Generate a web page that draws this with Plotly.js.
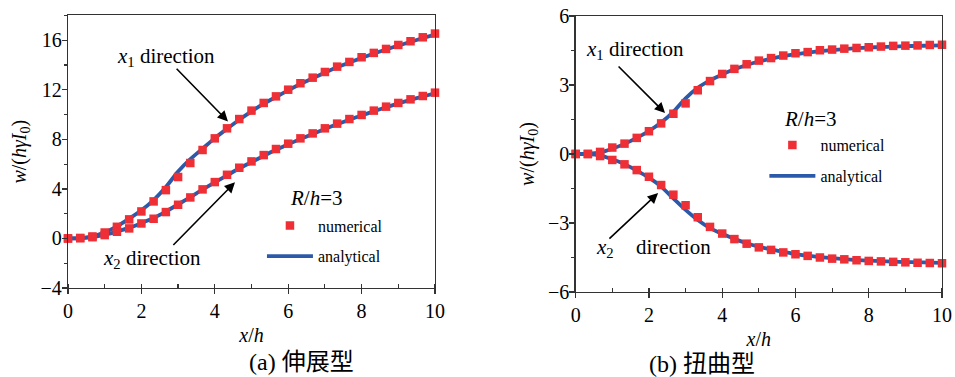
<!DOCTYPE html>
<html>
<head>
<meta charset="utf-8">
<script src="https://cdn.plot.ly/plotly-3.0.1.min.js"></script>
<style>html,body{margin:0;padding:0;background:#fff;}#chart{width:955px;height:377px;}</style>
</head>
<body>
<div id="chart"></div>
<script>
// x positions (x/h)
const xh = [0, 0.333, 0.667, 1, 1.333, 1.667, 2, 2.333, 2.667, 3, 3.333, 3.667, 4, 4.333, 4.667, 5,
            5.333, 5.667, 6, 6.333, 6.667, 7, 7.333, 7.667, 8, 8.333, 8.667, 9, 9.333, 9.667, 10];

// (a) 伸展型 — numerical
const aX1Num = [0, 0.03, 0.16, 0.48, 0.94, 1.54, 2.18, 2.99, 3.9, 4.96, 6.09, 7.14, 8.08, 8.89, 9.64, 10.32,
                10.94, 11.47, 12.01, 12.53, 12.98, 13.44, 13.87, 14.25, 14.63, 14.98, 15.3, 15.62, 15.92, 16.24, 16.54];
const aX2Num = [0, 0.03, 0.1, 0.27, 0.54, 0.81, 1.21, 1.59, 2.13, 2.72, 3.31, 3.96, 4.55, 5.14, 5.71, 6.22,
                6.73, 7.22, 7.65, 8.08, 8.48, 8.89, 9.27, 9.64, 9.97, 10.32, 10.64, 10.94, 11.23, 11.5, 11.77];
// (a) 伸展型 — analytical
const aX1Ana = [0, 0.03, 0.17, 0.5, 0.98, 1.6, 2.28, 3.1, 4.15, 5.4, 6.4, 7.25, 8.1, 8.85, 9.58, 10.26,
                10.88, 11.42, 11.96, 12.47, 12.93, 13.39, 13.82, 14.2, 14.58, 14.93, 15.26, 15.57, 15.87, 16.18, 16.46];
const aX2Ana = [0, 0.03, 0.11, 0.29, 0.56, 0.85, 1.24, 1.65, 2.17, 2.75, 3.33, 3.96, 4.53, 5.1, 5.65, 6.16,
                6.67, 7.16, 7.6, 8.03, 8.43, 8.84, 9.22, 9.59, 9.93, 10.27, 10.59, 10.9, 11.19, 11.46, 11.72];

// (b) 扭曲型 — numerical
const bX1Num = [0, 0, 0.09, 0.28, 0.45, 0.7, 0.99, 1.33, 1.75, 2.2, 2.77, 3.17, 3.48, 3.7, 3.9, 4.06,
                4.17, 4.28, 4.38, 4.43, 4.51, 4.54, 4.58, 4.61, 4.64, 4.67, 4.7, 4.71, 4.72, 4.74, 4.75];
const bX2Num = [0, 0, -0.09, -0.26, -0.45, -0.7, -0.99, -1.35, -1.77, -2.23, -2.75, -3.17, -3.46, -3.7, -3.9, -4.06,
                -4.17, -4.28, -4.36, -4.43, -4.5, -4.55, -4.58, -4.62, -4.65, -4.67, -4.69, -4.71, -4.73, -4.74, -4.75];
// (b) 扭曲型 — analytical
const bX1Ana = [0, 0.01, 0.07, 0.23, 0.44, 0.7, 1.0, 1.37, 1.83, 2.42, 2.88, 3.2, 3.46, 3.68, 3.87, 4.02,
                4.14, 4.25, 4.34, 4.41, 4.47, 4.52, 4.56, 4.6, 4.63, 4.65, 4.67, 4.69, 4.7, 4.71, 4.72];
const bX2Ana = [0, -0.01, -0.07, -0.23, -0.44, -0.72, -1.03, -1.42, -1.93, -2.43, -2.87, -3.22, -3.47, -3.69, -3.88, -4.03,
                -4.15, -4.26, -4.35, -4.42, -4.48, -4.53, -4.57, -4.61, -4.64, -4.66, -4.68, -4.7, -4.71, -4.72, -4.73];

const xTickVals = [0, 2, 4, 6, 8, 10];
const aYTickVals = [-4, 0, 4, 8, 12, 16];
const bYTickVals = [-6, -3, 0, 3, 6];

const serif = '"Liberation Serif", "Times New Roman", "DejaVu Serif", serif';
const cjk = '"Liberation Serif", "Noto Sans CJK SC", serif';
const RED = '#ee2f35';
const BLUE = '#2c5aa8';

function lineTrace(y, xa, ya, leg, show) {
  return {x: xh, y: y, xaxis: xa, yaxis: ya, type: 'scatter', mode: 'lines',
          line: {color: BLUE, width: 3.8, shape: 'spline', smoothing: 0.6},
          name: 'analytical', legend: leg, legendgroup: leg + 'ana', legendrank: 2, showlegend: show};
}
function markTrace(y, xa, ya, leg, show) {
  return {x: xh, y: y, xaxis: xa, yaxis: ya, type: 'scatter', mode: 'markers', cliponaxis: false,
          marker: {symbol: 'square', size: 8.5, color: RED},
          name: 'numerical', legend: leg, legendgroup: leg + 'num', legendrank: 1, showlegend: show};
}

const data = [
  lineTrace(aX1Ana, 'x', 'y', 'legend', true),
  lineTrace(aX2Ana, 'x', 'y', 'legend', false),
  markTrace(aX1Num, 'x', 'y', 'legend', true),
  markTrace(aX2Num, 'x', 'y', 'legend', false),
  lineTrace(bX1Ana, 'x2', 'y2', 'legend2', true),
  lineTrace(bX2Ana, 'x2', 'y2', 'legend2', false),
  markTrace(bX1Num, 'x2', 'y2', 'legend2', true),
  markTrace(bX2Num, 'x2', 'y2', 'legend2', false)
];

const axLine = {showline: true, linecolor: '#333', linewidth: 1.3, mirror: true, showgrid: false, zeroline: false,
                ticks: 'outside', ticklen: 5, tickwidth: 1.2, tickcolor: '#333',
                tickfont: {family: serif, size: 20, color: '#000'}};

function xAxis(domain, anchor) {
  return Object.assign({}, axLine, {domain: domain, anchor: anchor, range: [0, 10], tickvals: xTickVals,
    minor: {ticks: 'inside', ticklen: 4, tickwidth: 1.2, tickcolor: '#333', dtick: 1},
    title: {text: '<i>x</i>/<i>h</i>', font: {family: serif, size: 20, color: '#000'}, standoff: 6}});
}
function yAxis(domain, anchor, range, tv, mdt) {
  return Object.assign({}, axLine, {domain: domain, anchor: anchor, range: range, tickvals: tv, ticklabelstandoff: -4,
    minor: {ticks: 'outside', ticklen: 3, tickwidth: 1.2, tickcolor: '#333', dtick: mdt, tick0: 0},
    title: {text: '<i>w</i>/(<i>hγI</i><sub>0</sub>)', font: {family: serif, size: 20, color: '#000'}, standoff: 8}});
}

const annFont = {family: serif, size: 21, color: '#000'};
const arrowBase = {showarrow: true, arrowhead: 2, arrowsize: 1.3, arrowwidth: 1.6, arrowcolor: '#000',
                   axref: 'x', ayref: 'y'};

const layout = {
  width: 955, height: 377,
  margin: {l: 0, r: 0, t: 0, b: 0},
  paper_bgcolor: '#fff', plot_bgcolor: '#fff',
  font: {family: serif, color: '#000'},
  xaxis: xAxis([0.0712, 0.4555], 'y'),
  yaxis: yAxis([0.2361, 0.9589], 'x', [-4, 18], aYTickVals, 2),
  xaxis2: xAxis([0.6028, 0.9864], 'y2'),
  yaxis2: yAxis([0.2255, 0.9576], 'x2', [-6, 6], bYTickVals, 1.5),
  legend: {x: 0.2743, y: 0.447, xanchor: 'left', yanchor: 'top', bgcolor: 'rgba(0,0,0,0)',
           font: {family: serif, size: 16, color: '#000'}, tracegroupgap: 7, itemwidth: 46},
  legend2: {x: 0.8004, y: 0.66, xanchor: 'left', yanchor: 'top', bgcolor: 'rgba(0,0,0,0)',
           font: {family: serif, size: 16, color: '#000'}, tracegroupgap: 7, itemwidth: 46},
  annotations: [
    Object.assign({}, arrowBase, {xref: 'x', yref: 'y', x: 4.36, y: 9.45, ax: 2.92, ay: 13.82, text: ''}),
    Object.assign({}, arrowBase, {xref: 'x', yref: 'y', x: 4.55, y: 4.53, ax: 2.83, ay: -0.65, text: ''}),
    {xref: 'x', yref: 'y', x: 2.67, y: 14.63, text: '<i>x</i><sub>1</sub> direction', showarrow: false, font: annFont},
    {xref: 'x', yref: 'y', x: 2.29, y: -1.62, text: '<i>x</i><sub>2</sub> direction', showarrow: false, font: annFont},
    {xref: 'x', yref: 'y', x: 6.78, y: 3.23, text: '<i>R</i>/<i>h</i>=3', showarrow: false, font: annFont},

    Object.assign({}, arrowBase, {xref: 'x2', yref: 'y2', axref: 'x2', ayref: 'y2', x: 2.44, y: 1.78, ax: 1.13, ay: 3.87, text: ''}),
    Object.assign({}, arrowBase, {xref: 'x2', yref: 'y2', axref: 'x2', ayref: 'y2', x: 2.25, y: -1.70, ax: 0.88, ay: -3.74, text: ''}),
    {xref: 'x2', yref: 'y2', x: 1.62, y: 4.52, text: '<i>x</i><sub>1</sub> direction', showarrow: false, font: annFont},
    {xref: 'x2', yref: 'y2', x: 0.80, y: -4.09, text: '<i>x</i><sub>2</sub>', showarrow: false, font: annFont},
    {xref: 'x2', yref: 'y2', x: 2.66, y: -4.04, text: 'direction', showarrow: false, font: annFont},
    {xref: 'x2', yref: 'y2', x: 6.42, y: 1.52, text: '<i>R</i>/<i>h</i>=3', showarrow: false, font: annFont},

    {xref: 'paper', yref: 'paper', x: 247 / 955, y: 1 - 362 / 377, yanchor: 'middle', text: '(a) 伸展型', showarrow: false,
     font: {family: cjk, size: 24, color: '#000'}},
    {xref: 'paper', yref: 'paper', x: 757 / 955, y: 1 - 364 / 377, yanchor: 'middle', text: '(b) 扭曲型', showarrow: false,
     font: {family: cjk, size: 24, color: '#000'}}
  ]
};

Plotly.newPlot('chart', data, layout, {displayModeBar: false, staticPlot: true});
</script>
</body>
</html>
